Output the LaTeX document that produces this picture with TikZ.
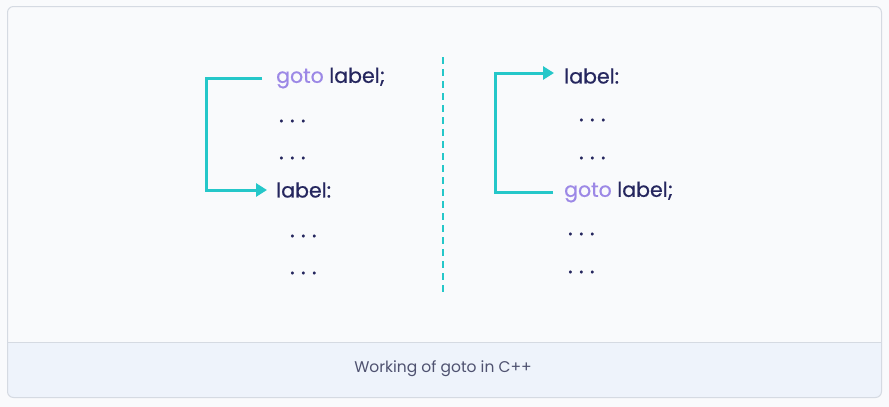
\documentclass[tikz,border=0pt]{standalone}
\usepackage{fontspec}
\setmainfont{Poppins}
\usetikzlibrary{arrows.meta}
\definecolor{pagebg}{HTML}{F9FAFC}
\definecolor{cardline}{HTML}{D5DAE2}
\definecolor{capbg}{HTML}{EEF3FB}
\definecolor{teal}{HTML}{25C7C9}
\definecolor{gotocol}{HTML}{9C88E6}
\definecolor{txt}{HTML}{25265E}
\definecolor{captxt}{HTML}{4F5270}
\newcommand{\tridots}{.\hspace{6.5pt}.\hspace{6.5pt}.}
\begin{document}
\begin{tikzpicture}[x=1pt,y=-1pt,
  code/.style={anchor=west,inner sep=0pt,text=txt,font=\fontsize{20.5}{24}\selectfont\addfontfeature{FakeBold=0.6}},
  dots/.style={anchor=west,inner sep=0pt,text=txt,font=\fontsize{21}{24}\selectfont\addfontfeature{FakeBold=1.2}},
  flow/.style={draw=teal,line width=3pt,-{Triangle[length=11pt,width=13pt]}}]
\useasboundingbox (0,0) rectangle (889,407);
\fill[pagebg] (0,0) rectangle (889,407);
% card
\begin{scope}
\clip[rounded corners=6pt] (7.5,6.5) rectangle (881.5,397.5);
\fill[pagebg] (7.5,6.5) rectangle (881.5,342);
\fill[capbg] (7.5,342) rectangle (881.5,397.5);
\end{scope}
\draw[cardline,line width=1pt,rounded corners=6pt] (7.5,6.5) rectangle (881.5,397.5);
\draw[cardline,line width=1pt] (7.5,342) -- (881.5,342);
\node[text=captxt,font=\fontsize{15.5}{18}\selectfont] (cap) at (443,369) {Working of goto in C++};
% divider
\draw[teal,line width=2pt,dash pattern=on 7pt off 5pt] (443,57) -- (443,294);
% left column
\node[code] (lg) at (276,78) {\textcolor{gotocol}{goto} label;};
\node[dots] (ld1) at (279,121) {\tridots};
\node[dots] (ld2) at (279,158) {\tridots};
\node[code] (ll) at (276,190) {label:};
\node[dots] (ld3) at (290,236) {\tridots};
\node[dots] (ld4) at (290,273) {\tridots};
\coordinate (lgs) at (262,78);
\draw[flow] (lgs) -- (206,78) -- (206,190) -- ([xshift=-9pt]ll.west);
% right column
\node[code] (rl) at (564,76) {label:};
\node[dots] (rd1) at (579,120) {\tridots};
\node[dots] (rd2) at (579,158) {\tridots};
\node[code] (rg) at (564,192) {\textcolor{gotocol}{goto} label;};
\node[dots] (rd3) at (568,234) {\tridots};
\node[dots] (rd4) at (568,272) {\tridots};
\coordinate (rgs) at (553,192);
\draw[flow] (rgs) -- (495,192) -- (495,73) -- ([xshift=-10pt]rl.west |- 0,73);
\end{tikzpicture}
\end{document}
